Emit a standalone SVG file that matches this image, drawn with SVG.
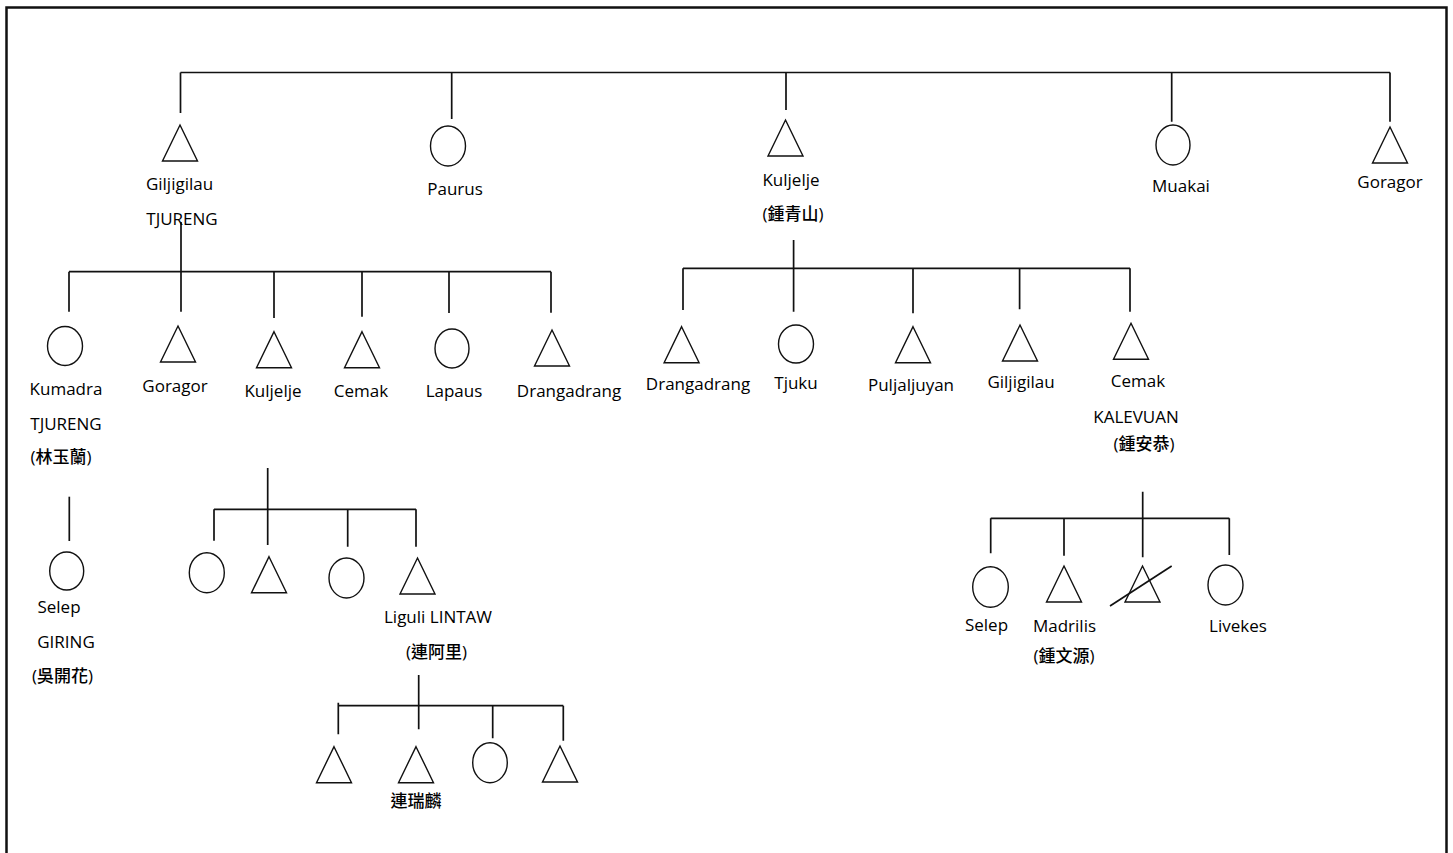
<svg xmlns="http://www.w3.org/2000/svg" xmlns:xlink="http://www.w3.org/1999/xlink" width="1453" height="853" viewBox="0 0 1453 853">
<style>
.ln{stroke:#111;stroke-width:1.7;fill:none}
.sym{stroke:#111;stroke-width:1.4;fill:#fff}
.t{font-family:"Open Sans","Noto Sans CJK TC",sans-serif;font-size:17px;fill:#000;text-anchor:middle;font-weight:500}
.c{font-family:"Open Sans","Noto Sans CJK TC",sans-serif;font-size:17px;fill:#000;text-anchor:middle;font-weight:500}
</style>
<defs>
<path id="tri" d="M0,0 L17.5,36 L-17.5,36 Z"/>
</defs>
<rect x="0" y="0" width="1453" height="853" fill="#fff"/>
<rect x="6.5" y="7.5" width="1440" height="860" fill="none" stroke="#111" stroke-width="2.5"/>
<g id="connectors">
<path class="ln" d="M180.5,72.5 H1390 M180.5,72.5 V113 M451.7,72.5 V119 M786,72.5 V110 M1171.7,72.5 V121.7 M1390,72.5 V121.7"/>
<path class="ln" d="M69,271.7 H551 M181,222 V311.7 M69,271.7 V311.7 M274,271.7 V318 M362,271.7 V316.7 M449,271.7 V313 M551,271.7 V312.7"/>
<path class="ln" d="M69.3,496.7 V541"/>
<path class="ln" d="M267.7,468 V545 M214,509.3 H416 M214,509.3 V540.7 M347.7,509.3 V546.7 M416,509.3 V546.7"/>
<path class="ln" d="M418.7,675 V729.3 M338.3,705.7 H563.3 M338.3,702.7 V734.3 M492.7,705.7 V738.3 M563.3,705.7 V740.7"/>
<path class="ln" d="M793.6,240 V311.7 M683,268.3 H1130 M683,268.3 V310 M913,268.3 V313.3 M1019.6,268.3 V309.3 M1130,268.3 V311.7"/>
<path class="ln" d="M1142.7,491.7 V557.3 M990.7,518.3 H1229.3 M990.7,518.3 V553.3 M1064,518.3 V555.7 M1229.3,518.3 V555"/>
</g>
<g id="n-giljigilau-1"><use xlink:href="#tri" class="sym" x="180" y="125"/><text class="t" x="179.5" y="189.5">Giljigilau</text><text class="t" x="182" y="225">TJURENG</text></g>
<g id="n-paurus"><ellipse class="sym" cx="448" cy="146" rx="17.5" ry="20"/><text class="t" x="455" y="195">Paurus</text></g>
<g id="n-kuljelje-1"><use xlink:href="#tri" class="sym" x="785.5" y="120"/><text class="t" x="791" y="186">Kuljelje</text><text class="c" x="793" y="220">(鍾青山)</text></g>
<g id="n-muakai"><ellipse class="sym" cx="1173" cy="145" rx="17" ry="20"/><text class="t" x="1181" y="192">Muakai</text></g>
<g id="n-goragor-1"><use xlink:href="#tri" class="sym" x="1390" y="127"/><text class="t" x="1390" y="188">Goragor</text></g>

<g id="n-kumadra"><ellipse class="sym" cx="65" cy="346" rx="17.5" ry="19.5"/><text class="t" x="66" y="395">Kumadra</text><text class="t" x="66" y="430">TJURENG</text><text class="c" x="61" y="463">(林玉蘭)</text></g>
<g id="n-goragor-2"><use xlink:href="#tri" class="sym" x="178" y="326"/><text class="t" x="175" y="392">Goragor</text></g>
<g id="n-kuljelje-2"><use xlink:href="#tri" class="sym" x="274" y="331.7"/><text class="t" x="273" y="397">Kuljelje</text></g>
<g id="n-cemak-2"><use xlink:href="#tri" class="sym" x="362" y="331.7"/><text class="t" x="361" y="397">Cemak</text></g>
<g id="n-lapaus"><ellipse class="sym" cx="452" cy="348.5" rx="17" ry="19.5"/><text class="t" x="454" y="397">Lapaus</text></g>
<g id="n-drangadrang-2"><use xlink:href="#tri" class="sym" x="552" y="330"/><text class="t" x="569" y="397">Drangadrang</text></g>

<g id="n-selep-giring"><ellipse class="sym" cx="66.7" cy="571" rx="17" ry="19"/><text class="t" x="59" y="613">Selep</text><text class="t" x="66" y="648">GIRING</text><text class="c" x="62.5" y="682">(吳開花)</text></g>

<g id="n-k-child-1"><ellipse class="sym" cx="206.8" cy="572.7" rx="17.5" ry="20"/></g>
<g id="n-k-child-2"><use xlink:href="#tri" class="sym" x="269" y="556.7"/></g>
<g id="n-k-child-3"><ellipse class="sym" cx="346.5" cy="578" rx="17.5" ry="20"/></g>
<g id="n-liguli"><use xlink:href="#tri" class="sym" x="417.5" y="558"/><text class="t" x="438" y="623">Liguli LINTAW</text><text class="c" x="436.5" y="658">(連阿里)</text></g>

<g id="n-l-child-1"><use xlink:href="#tri" class="sym" x="334" y="746.7"/></g>
<g id="n-l-child-2"><use xlink:href="#tri" class="sym" x="416" y="746.7"/><text class="c" x="416" y="807">連瑞麟</text></g>
<g id="n-l-child-3"><ellipse class="sym" cx="490" cy="762.7" rx="17.3" ry="20"/></g>
<g id="n-l-child-4"><use xlink:href="#tri" class="sym" x="560" y="746"/></g>

<g id="n-drangadrang-r"><use xlink:href="#tri" class="sym" x="681.6" y="326.7"/><text class="t" x="698" y="389.5">Drangadrang</text></g>
<g id="n-tjuku"><ellipse class="sym" cx="796" cy="344" rx="17.5" ry="19"/><text class="t" x="796" y="389">Tjuku</text></g>
<g id="n-puljaljuyan"><use xlink:href="#tri" class="sym" x="913" y="326.7"/><text class="t" x="911" y="391">Puljaljuyan</text></g>
<g id="n-giljigilau-r"><use xlink:href="#tri" class="sym" x="1020" y="325"/><text class="t" x="1021" y="388">Giljigilau</text></g>
<g id="n-cemak-r"><use xlink:href="#tri" class="sym" x="1131" y="323.3"/><text class="t" x="1138" y="387">Cemak</text><text class="t" x="1136" y="423">KALEVUAN</text><text class="c" x="1144" y="450">(鍾安恭)</text></g>

<g id="n-selep-r"><ellipse class="sym" cx="990.5" cy="587" rx="17.8" ry="20.3"/><text class="t" x="986.5" y="631">Selep</text></g>
<g id="n-madrilis"><use xlink:href="#tri" class="sym" x="1064" y="566"/><text class="t" x="1064.5" y="631.7">Madrilis</text><text class="c" x="1064" y="662">(鍾文源)</text></g>
<g id="n-crossed"><use xlink:href="#tri" class="sym" x="1142.5" y="566"/><line class="ln" x1="1110" y1="606" x2="1171.7" y2="566" stroke-width="1.3"/></g>
<g id="n-livekes"><ellipse class="sym" cx="1225.5" cy="585" rx="17.5" ry="20"/><text class="t" x="1238" y="632">Livekes</text></g>
</svg>
